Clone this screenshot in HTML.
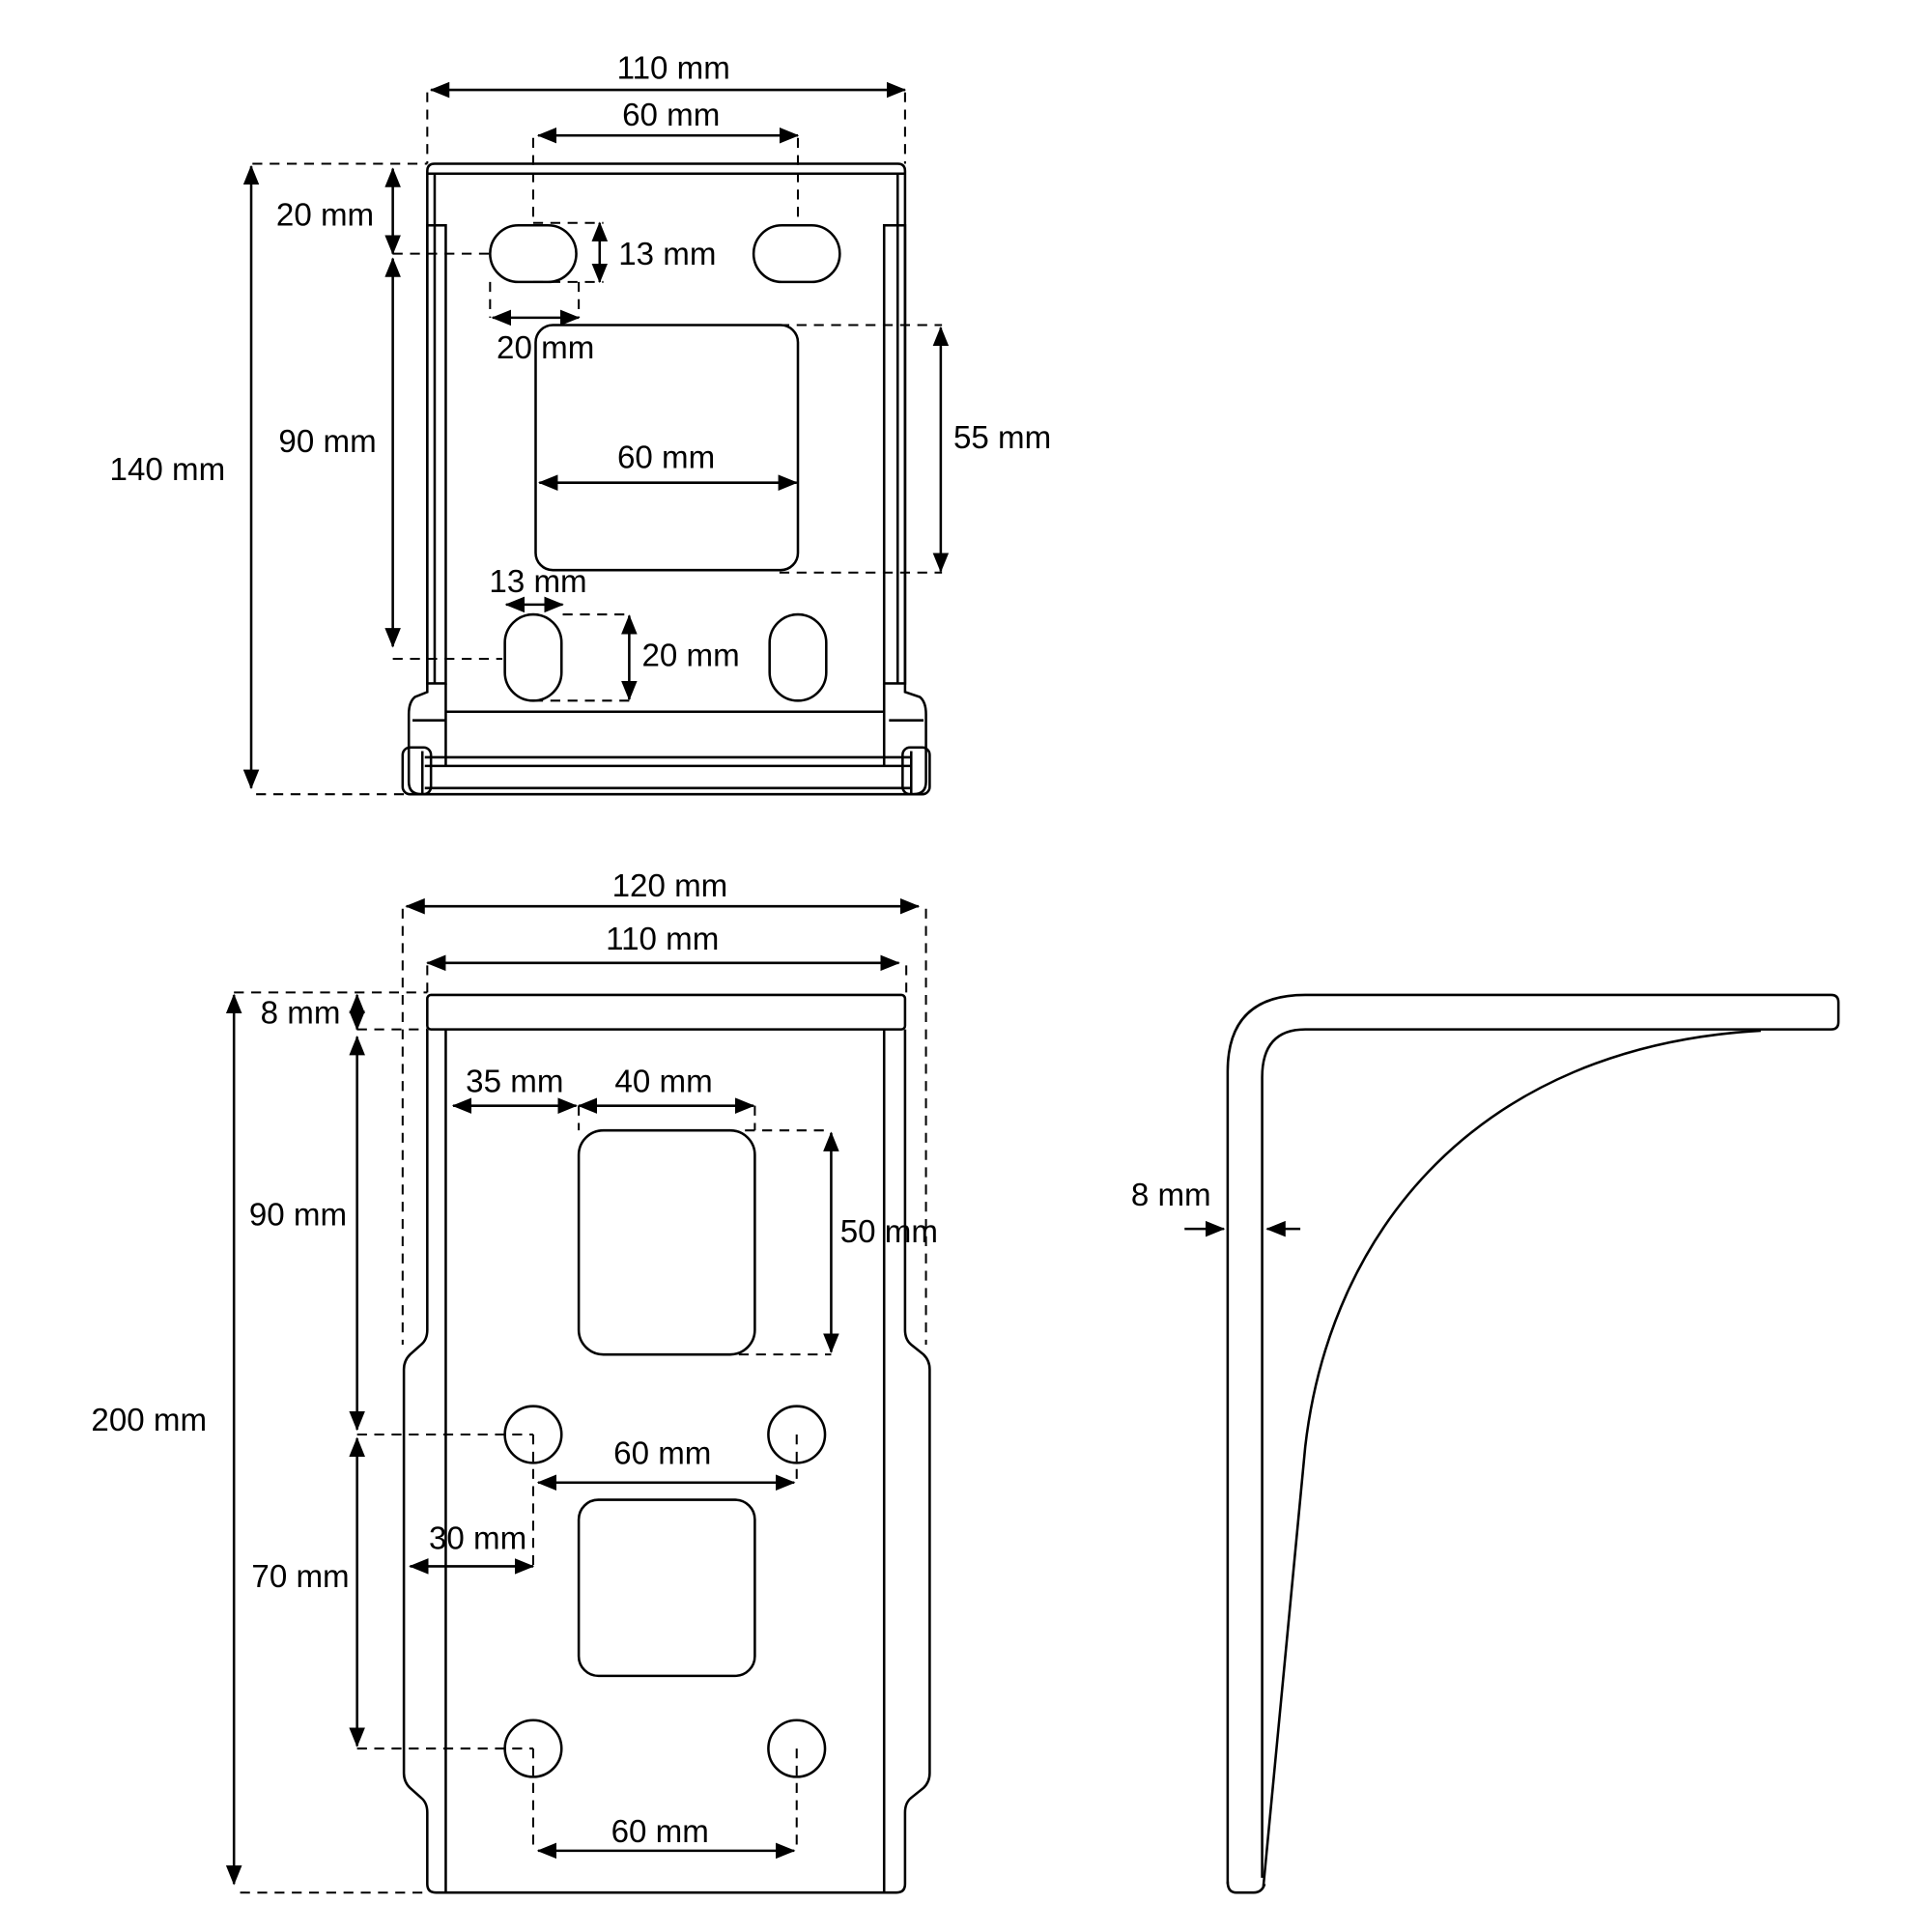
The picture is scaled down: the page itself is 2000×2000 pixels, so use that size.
<!DOCTYPE html>
<html><head><meta charset="utf-8"><style>
html,body{margin:0;padding:0;background:#fff}
svg{display:block}
text{font-family:"Liberation Sans","DejaVu Sans",sans-serif;font-size:26px;fill:#000;text-anchor:middle}
.s{fill:none;stroke:#000;stroke-width:2}
.d{fill:none;stroke:#000;stroke-width:1.6;stroke-dasharray:8 6}
.a{fill:none;stroke:#000;stroke-width:2;marker-start:url(#m);marker-end:url(#m)}
</style></head><body>
<svg width="2000" height="2000" viewBox="0 0 1569 1569" xmlns="http://www.w3.org/2000/svg">
<defs>
<marker id="m" viewBox="0 0 16 13" refX="15" refY="6.5" markerWidth="16" markerHeight="13" markerUnits="userSpaceOnUse" orient="auto-start-reverse">
<path d="M0,0 L16,6.5 L0,13 Z" fill="#000"/></marker>
</defs>

<!-- ===== TOP VIEW ===== -->
<path class="s" d="M347,555 L347,139 Q347,133 353,133 L729,133 Q735,133 735,139 L735,555"/>
<line class="s" x1="347" y1="141" x2="735" y2="141"/>
<line class="s" x1="353" y1="141" x2="353" y2="555"/>
<line class="s" x1="729" y1="141" x2="729" y2="555"/>
<rect class="s" x="347" y="183" width="15" height="372"/>
<rect class="s" x="718" y="183" width="17" height="372"/>
<path class="s" d="M347,555 L347,562 L337,566 Q332,570 332,580 L332,635 Q332,645 342,645 L742,645 Q752,645 752,635 L752,580 Q752,570 747,566 L735,562 L735,555"/>
<line class="s" x1="362" y1="578" x2="718" y2="578"/>
<line class="s" x1="362" y1="555" x2="362" y2="622"/>
<line class="s" x1="718" y1="555" x2="718" y2="622"/>
<line class="s" x1="335" y1="585" x2="362" y2="585"/>
<line class="s" x1="722" y1="585" x2="750" y2="585"/>
<line class="s" x1="345" y1="615" x2="740" y2="615"/>
<line class="s" x1="345" y1="622" x2="740" y2="622"/>
<line class="s" x1="345" y1="640" x2="740" y2="640"/>
<rect class="s" x="327" y="607" width="23" height="38" rx="6"/>
<rect class="s" x="733" y="607" width="22" height="38" rx="6"/>
<line class="s" x1="343" y1="610" x2="343" y2="645"/>
<line class="s" x1="740" y1="610" x2="740" y2="645"/>

<rect class="s" x="398" y="183" width="70" height="46" rx="23"/>
<rect class="s" x="612" y="183" width="70" height="46" rx="23"/>
<rect class="s" x="435" y="264" width="213" height="199" rx="14"/>
<rect class="s" x="410" y="499" width="46" height="70" rx="23"/>
<rect class="s" x="625" y="499" width="46" height="70" rx="23"/>

<!-- top dims -->
<line class="a" x1="350" y1="73" x2="735" y2="73"/>
<text x="547" y="64">110 mm</text>
<line class="d" x1="347" y1="75" x2="347" y2="133"/>
<line class="d" x1="735" y1="75" x2="735" y2="133"/>
<line class="a" x1="437" y1="110" x2="648" y2="110"/>
<text x="545" y="102">60 mm</text>
<line class="d" x1="433" y1="112" x2="433" y2="183"/>
<line class="d" x1="648" y1="112" x2="648" y2="183"/>

<line class="d" x1="205" y1="133" x2="347" y2="133"/>
<line class="a" x1="204" y1="135" x2="204" y2="640"/>
<line class="d" x1="208" y1="645" x2="333" y2="645"/>
<text x="136" y="390">140 mm</text>

<line class="a" x1="319" y1="137" x2="319" y2="206"/>
<text x="264" y="183">20 mm</text>
<line class="d" x1="319" y1="206" x2="398" y2="206"/>
<line class="a" x1="319" y1="210" x2="319" y2="525"/>
<text x="266" y="367">90 mm</text>
<line class="d" x1="319" y1="535" x2="408" y2="535"/>

<line class="d" x1="433" y1="181" x2="490" y2="181"/>
<line class="d" x1="433" y1="229" x2="490" y2="229"/>
<line class="a" x1="487" y1="181" x2="487" y2="229"/>
<text x="542" y="215">13 mm</text>
<line class="d" x1="398" y1="229" x2="398" y2="258"/>
<line class="d" x1="470" y1="229" x2="470" y2="258"/>
<line class="a" x1="400" y1="258" x2="470" y2="258"/>
<text x="443" y="291">20 mm</text>

<line class="d" x1="633" y1="264" x2="765" y2="264"/>
<line class="d" x1="633" y1="465" x2="765" y2="465"/>
<line class="a" x1="764" y1="266" x2="764" y2="464"/>
<text x="814" y="364">55 mm</text>
<line class="a" x1="438" y1="392" x2="647" y2="392"/>
<text x="541" y="380">60 mm</text>

<line class="a" x1="411" y1="491" x2="457" y2="491"/>
<text x="437" y="481">13 mm</text>
<line class="d" x1="457" y1="499" x2="512" y2="499"/>
<line class="d" x1="433" y1="569" x2="512" y2="569"/>
<line class="a" x1="511" y1="500" x2="511" y2="568"/>
<text x="561" y="541">20 mm</text>

<!-- ===== FRONT VIEW ===== -->
<rect class="s" x="347" y="808" width="388" height="28" rx="3"/>
<path class="s" d="M347,836 L347,1080 Q347,1088 342,1092 L333,1100 Q328,1105 328,1112 L328,1440 Q328,1447 333,1452 L342,1460 Q347,1464 347,1472 L347,1530 Q347,1537 354,1537 L728,1537 Q735,1537 735,1530 L735,1472 Q735,1464 740,1460 L750,1452 Q755,1447 755,1440 L755,1112 Q755,1105 750,1100 L740,1092 Q735,1088 735,1080 L735,836"/>
<line class="s" x1="362" y1="836" x2="362" y2="1537"/>
<line class="s" x1="718" y1="836" x2="718" y2="1537"/>
<rect class="s" x="470" y="918" width="143" height="182" rx="20"/>
<rect class="s" x="470" y="1218" width="143" height="143" rx="16"/>
<circle class="s" cx="433" cy="1165" r="23"/>
<circle class="s" cx="647" cy="1165" r="23"/>
<circle class="s" cx="433" cy="1420" r="23"/>
<circle class="s" cx="647" cy="1420" r="23"/>

<line class="a" x1="330" y1="736" x2="746" y2="736"/>
<text x="544" y="728">120 mm</text>
<line class="d" x1="327" y1="738" x2="327" y2="1092"/>
<line class="d" x1="752" y1="738" x2="752" y2="1092"/>
<line class="a" x1="347" y1="782" x2="730" y2="782"/>
<text x="538" y="771">110 mm</text>
<line class="d" x1="347" y1="784" x2="347" y2="808"/>
<line class="d" x1="736" y1="784" x2="736" y2="808"/>

<line class="d" x1="190" y1="806" x2="347" y2="806"/>
<line class="d" x1="290" y1="836" x2="347" y2="836"/>
<line class="a" x1="290" y1="808" x2="290" y2="836"/>
<text x="244" y="831">8 mm</text>
<line class="a" x1="190" y1="808" x2="190" y2="1530"/>
<text x="121" y="1162">200 mm</text>
<line class="d" x1="195" y1="1537" x2="347" y2="1537"/>
<line class="a" x1="290" y1="842" x2="290" y2="1161"/>
<text x="242" y="995">90 mm</text>
<line class="d" x1="290" y1="1165" x2="433" y2="1165"/>
<line class="a" x1="290" y1="1168" x2="290" y2="1418"/>
<text x="244" y="1289">70 mm</text>
<line class="d" x1="290" y1="1420" x2="433" y2="1420"/>

<line class="a" x1="368" y1="898" x2="468" y2="898"/>
<text x="418" y="887">35 mm</text>
<line class="a" x1="470" y1="898" x2="612" y2="898"/>
<text x="539" y="887">40 mm</text>
<line class="d" x1="470" y1="898" x2="470" y2="918"/>
<line class="d" x1="613" y1="898" x2="613" y2="918"/>
<line class="d" x1="605" y1="918" x2="675" y2="918"/>
<line class="d" x1="600" y1="1100" x2="675" y2="1100"/>
<line class="a" x1="675" y1="920" x2="675" y2="1098"/>
<text x="722" y="1009">50 mm</text>

<line class="d" x1="433" y1="1165" x2="433" y2="1272"/>
<line class="d" x1="647" y1="1165" x2="647" y2="1204"/>
<line class="a" x1="437" y1="1204" x2="645" y2="1204"/>
<text x="538" y="1189">60 mm</text>
<line class="a" x1="333" y1="1272" x2="433" y2="1272"/>
<text x="388" y="1258">30 mm</text>

<line class="d" x1="433" y1="1420" x2="433" y2="1503"/>
<line class="d" x1="647" y1="1420" x2="647" y2="1503"/>
<line class="a" x1="437" y1="1503" x2="645" y2="1503"/>
<text x="536" y="1496">60 mm</text>

<!-- ===== SIDE VIEW ===== -->
<path class="s" d="M997,1530 L997,870 Q997,808 1060,808 L1487,808 Q1493,808 1493,814 L1493,830 Q1493,836 1487,836 L1060,836 Q1025,836 1025,875 L1025,1525"/>
<path class="s" d="M997,1528 Q997,1537 1004,1537 L1018,1537 Q1025,1537 1027,1530"/>
<path class="s" d="M1430,837 C1200,850 1080,1000 1060,1175 L1026,1532"/>

<line x1="962" y1="998" x2="994" y2="998" stroke="#000" stroke-width="2" marker-end="url(#m)"/>
<line x1="1056" y1="998" x2="1029" y2="998" stroke="#000" stroke-width="2" marker-end="url(#m)"/>
<text x="951" y="979">8 mm</text>
</svg>
</body></html>
